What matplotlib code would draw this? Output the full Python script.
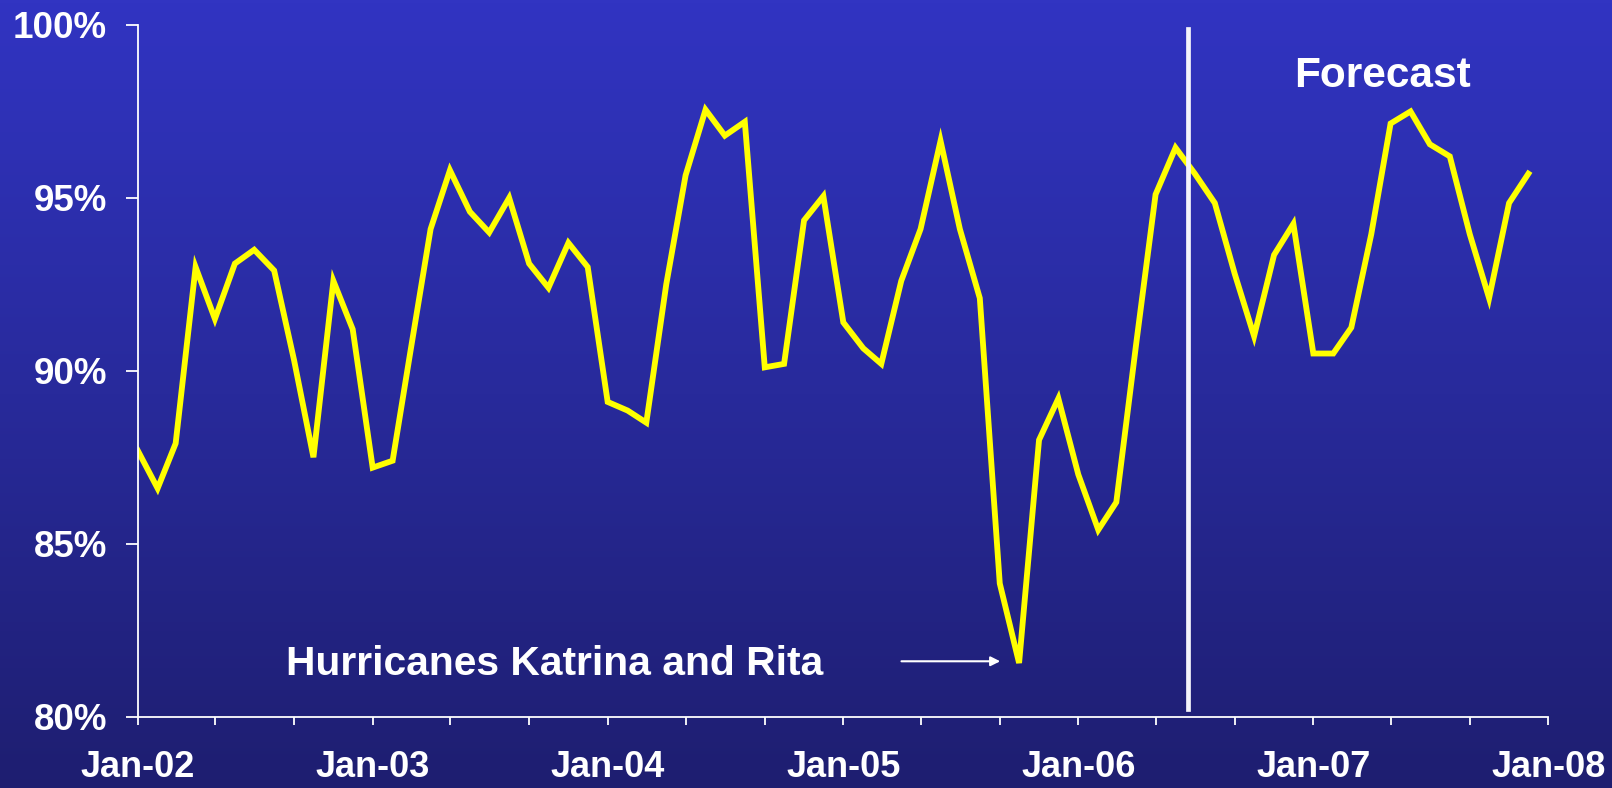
import numpy as np
import pandas as pd
import matplotlib
matplotlib.use("Agg")
import matplotlib.pyplot as plt
import matplotlib.dates as mdates
from matplotlib.colors import LinearSegmentedColormap
from matplotlib.ticker import FuncFormatter

plt.rcParams['font.family'] = ['Liberation Sans', 'DejaVu Sans']
plt.rcParams['font.weight'] = 'bold'

# monthly utilization, Jan-02 .. Dec-07 (values in %)
months = pd.date_range("2002-01-01", periods=72, freq="MS")
values = [87.7, 86.6, 87.9, 93.0, 91.5, 93.1, 93.5, 92.9, 90.3, 87.5, 92.6, 91.2,
          87.2, 87.4, 90.6, 94.1, 95.8, 94.6, 94.0, 95.0, 93.1, 92.4, 93.7, 93.0,
          89.1, 88.85, 88.5, 92.5, 95.65, 97.55, 96.8, 97.2, 90.1, 90.2, 94.35, 95.05,
          91.4, 90.65, 90.2, 92.6, 94.1, 96.65, 94.1, 92.1, 83.85, 81.55, 88.0, 89.2,
          87.0, 85.4, 86.2, 90.8, 95.1, 96.45, 95.7, 94.85, 92.8, 91.0, 93.35, 94.25,
          90.5, 90.5, 91.25, 93.95, 97.15, 97.5, 96.55, 96.2, 93.95, 92.1, 94.85, 95.7]
forecast_start = pd.Timestamp("2006-06-21")

fig = plt.figure(figsize=(16.12, 7.88), dpi=100)

# gradient background
bg = fig.add_axes([0, 0, 1, 1], zorder=0)
cmap = LinearSegmentedColormap.from_list("bg", ["#1e1e70", "#282a9b", "#3134c2"])
bg.imshow(np.linspace(0, 1, 256).reshape(-1, 1), aspect="auto", cmap=cmap,
          origin="lower", extent=[0, 1, 0, 1])
bg.axis("off")

ax = fig.add_axes([0.0854, 0.0906, 0.8751, 0.8777], zorder=1)
ax.patch.set_alpha(0)
ax.plot(months, values, color="#ffff00", lw=4.2, solid_joinstyle="miter")
ax.axvline(forecast_start, ymin=0.011, ymax=0.994, color="#f4f4fa", lw=3.4)

ax.set_xlim(pd.Timestamp("2002-01-01"), pd.Timestamp("2008-01-01"))
ax.set_ylim(80, 100)
ax.set_yticks([80, 85, 90, 95, 100])
ax.yaxis.set_major_formatter(FuncFormatter(lambda v, p: f"{v:.0f}%"))
ax.xaxis.set_major_locator(mdates.YearLocator())
ax.xaxis.set_major_formatter(mdates.DateFormatter("%b-%y"))
ax.xaxis.set_minor_locator(mdates.MonthLocator(bymonth=[5, 9]))

for s in ["top", "right"]:
    ax.spines[s].set_visible(False)
for s in ["left", "bottom"]:
    ax.spines[s].set_color("white")
    ax.spines[s].set_linewidth(1.3)
ax.tick_params(axis="x", which="both", colors="white", length=6, width=1.3,
               labelsize=26, pad=18)
ax.tick_params(axis="y", colors="white", length=9, width=1.3, labelsize=26.5, pad=13)
for lab in ax.get_xticklabels() + ax.get_yticklabels():
    lab.set_fontweight("bold")

ax.text(pd.Timestamp("2007-04-18"), 98.2, "Forecast", color="white", fontsize=30.5,
        fontweight="bold", ha="center", va="baseline")
ax.text(pd.Timestamp("2002-08-20"), 81.2, "Hurricanes Katrina and Rita", color="white",
        fontsize=29.3, fontweight="bold", ha="left", va="baseline")
ax.annotate("", xy=(pd.Timestamp("2005-09-06"), 81.6), xytext=(pd.Timestamp("2005-03-28"), 81.6),
            arrowprops=dict(arrowstyle="-|>", color="white", lw=1.5, mutation_scale=14))

fig.savefig("out.png", dpi=100)
